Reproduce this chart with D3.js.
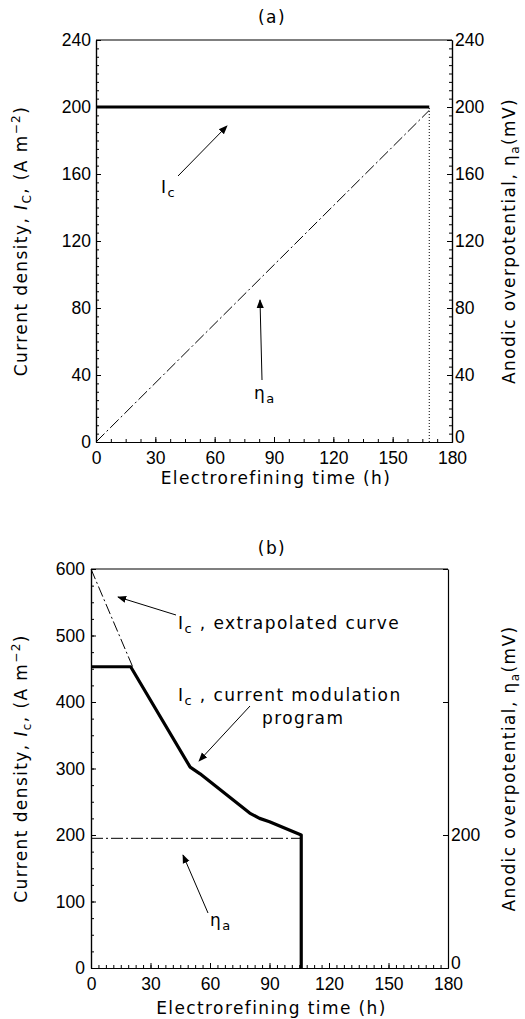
<!DOCTYPE html>
<html>
<head>
<meta charset="utf-8">
<script src="https://cdn.jsdelivr.net/npm/d3@7"></script>
<style>
  body { margin: 0; background: #fff; }
  svg { display: block; font-family: "DejaVu Sans", sans-serif; }
  .tick text { font-size: 17.5px; fill: #000; }
  .domain { stroke: #000; stroke-width: 1.2; }
  .tick line { stroke: #000; stroke-width: 1; }
  .lbl { font-size: 17px; letter-spacing: 1.4px; fill: #000; }
</style>
</head>
<body>
<svg id="chart"></svg>
<script>
const [w, h] = [525, 1019];

// panel (a)
const xTicks = [0, 30, 60, 90, 120, 150, 180];
const yTicksA = [0, 40, 80, 120, 160, 200, 240];
const icTimeA = [0, 168.5];
const icA = [200, 200];
const etaTimeA = [0, 168.5];
const etaA = [0, 198];
const endTimeA = 168.5;

// panel (b)
const yTicksB = [0, 100, 200, 300, 400, 500, 600];
const yRightTicksB = [0, 200, 400, 600];
const yRightLabelsB = [0, 200];
const icTimeB = [0, 20, 50, 55, 80, 85, 90, 106, 106];
const icB = [453, 453, 302, 292, 233, 225, 220, 200, 0];
const extTimeB = [0, 21];
const extB = [600, 453];
const etaTimeB = [0, 106];
const etaB = [195, 195];

const svg = d3.select('#chart').attr('width', w).attr('height', h);

svg.append('defs').append('marker')
    .attr('id', 'arr')
    .attr('viewBox', '0 0 10 10')
    .attr('refX', 9).attr('refY', 5)
    .attr('markerWidth', 9).attr('markerHeight', 9)
    .attr('markerUnits', 'userSpaceOnUse')
    .attr('orient', 'auto')
  .append('path')
    .attr('d', 'M0,1 L10,5 L0,9 Z')
    .attr('fill', '#000');

function drawAxes(g, x, y, yR, o) {
    const [x0, x1] = x.range();
    const [y0, y1] = y.range();

    // frame top
    g.append('line').attr('x1', x0).attr('x2', x1).attr('y1', y1).attr('y2', y1)
        .attr('stroke', '#000').attr('stroke-width', 1.2);

    // minor ticks
    g.append('g').attr('transform', `translate(0,${y0})`)
        .call(d3.axisBottom(x).tickValues(o.xMinor).tickSize(-3).tickFormat('').tickSizeOuter(0));
    g.append('g').attr('transform', `translate(${x0},0)`)
        .call(d3.axisLeft(y).tickValues(o.yMinor).tickSize(-3).tickFormat('').tickSizeOuter(0));
    if (o.yRMinor) {
        g.append('g').attr('transform', `translate(${x1},0)`)
            .call(d3.axisRight(yR).tickValues(o.yRMinor).tickSize(-3).tickFormat('').tickSizeOuter(0));
    }

    // major ticks
    g.append('g').attr('transform', `translate(0,${y0})`)
        .call(d3.axisBottom(x).tickValues(xTicks).tickSize(-5).tickPadding(5).tickSizeOuter(0))
        .selectAll('.tick text').attr('dy', '0.95em');
    g.append('g').attr('transform', `translate(${x0},0)`)
        .call(d3.axisLeft(y).tickValues(o.yTicks).tickSize(-5).tickPadding(o.lPad).tickSizeOuter(0));
    g.append('g').attr('transform', `translate(${x1},0)`)
        .call(d3.axisRight(yR).tickValues(o.yRTicks).tickSize(-5).tickPadding(3).tickSizeOuter(0)
            .tickFormat(d => o.yRLabels.includes(d) ? d : ''))
        .selectAll('.tick text').attr('dy', d => d === 0 ? '0.05em' : '0.32em');

    // x title
    g.append('text').attr('class', 'lbl')
        .attr('x', (x0 + x1) / 2 + 2).attr('y', o.xTitleY)
        .attr('text-anchor', 'middle')
        .text('Electrorefining time (h)');

    // left title
    const cy = (y0 + y1) / 2;
    const lt = g.append('text').attr('class', 'lbl')
        .attr('transform', `translate(27,${cy}) rotate(-90)`)
        .attr('text-anchor', 'middle');
    lt.append('tspan').text('Current density, ');
    lt.append('tspan').attr('font-style', 'italic').text('I');
    lt.append('tspan').attr('font-size', 12).attr('dy', 4).text(o.sub);
    lt.append('tspan').attr('dy', -4).text(', (A m');
    lt.append('tspan').attr('font-size', 12).attr('dy', -7).text('−2');
    lt.append('tspan').attr('dy', 7).text(')');

    // right title
    const rt = g.append('text').attr('class', 'lbl')
        .attr('transform', `translate(515,${cy}) rotate(-90)`)
        .attr('text-anchor', 'middle');
    rt.append('tspan').text('Anodic overpotential, η');
    rt.append('tspan').attr('font-size', 12).attr('dy', 4).text('a');
    rt.append('tspan').attr('dy', -4).text('(mV)');
}

function label(g, x, y, main, sub, rest) {
    const t = g.append('text').attr('class', 'lbl').attr('x', x).attr('y', y);
    t.append('tspan').text(main);
    t.append('tspan').attr('font-size', 13).attr('dy', 4).text(sub);
    if (rest) t.append('tspan').attr('dy', -4).text(rest);
}

function arrow(g, x1, y1, x2, y2) {
    g.append('line')
        .attr('x1', x1).attr('y1', y1).attr('x2', x2).attr('y2', y2)
        .attr('stroke', '#000').attr('stroke-width', 1)
        .attr('marker-end', 'url(#arr)');
}

const line = (xs, ys, x, y) => d3.line().x(i => x(xs[i])).y(i => y(ys[i]))(d3.range(xs.length));

// ---------- panel (a)
const gA = svg.append('g');
const xA = d3.scaleLinear().domain([0, 180]).range([96, 452]);
const yA = d3.scaleLinear().domain([0, 240]).range([442, 40]);

drawAxes(gA, xA, yA, yA, {
    xMinor: d3.range(0, 180.1, 7.5),
    yMinor: d3.range(0, 240.1, 5),
    yRMinor: d3.range(0, 240.1, 5),
    yTicks: yTicksA, yRTicks: yTicksA, yRLabels: yTicksA,
    lPad: 5, xTitleY: 484, sub: 'C'
});

gA.append('text').attr('class', 'lbl').attr('x', 272).attr('y', 23)
    .attr('text-anchor', 'middle').text('(a)');

gA.append('line')
    .attr('x1', xA(endTimeA)).attr('x2', xA(endTimeA))
    .attr('y1', yA(0)).attr('y2', yA(200))
    .attr('stroke', '#000').attr('stroke-width', 1).attr('stroke-dasharray', '1,2');

gA.append('path').attr('d', line(etaTimeA, etaA, xA, yA))
    .attr('fill', 'none').attr('stroke', '#000').attr('stroke-width', 1)
    .attr('stroke-dasharray', '12,3,2,3');

gA.append('path').attr('d', line(icTimeA, icA, xA, yA))
    .attr('fill', 'none').attr('stroke', '#000').attr('stroke-width', 3.2);

label(gA, 161, 193, 'I', 'c');
arrow(gA, 178, 176, 227, 126);
label(gA, 254, 399, 'η', 'a');
arrow(gA, 262, 380, 260, 300);

// ---------- panel (b)
const gB = svg.append('g');
const xB = d3.scaleLinear().domain([0, 180]).range([91, 448]);
const yB = d3.scaleLinear().domain([0, 600]).range([968, 569]);

drawAxes(gB, xB, yB, yB, {
    xMinor: d3.range(0, 180.1, 3.75),
    yMinor: d3.range(0, 600.1, 25),
    yRMinor: null,
    yTicks: yTicksB, yRTicks: yRightTicksB, yRLabels: yRightLabelsB,
    lPad: 6, xTitleY: 1014, sub: 'c'
});

gB.append('text').attr('class', 'lbl').attr('x', 272).attr('y', 554)
    .attr('text-anchor', 'middle').text('(b)');

gB.append('path').attr('d', line(extTimeB, extB, xB, yB))
    .attr('fill', 'none').attr('stroke', '#000').attr('stroke-width', 1)
    .attr('stroke-dasharray', '11,3,2,3');

gB.append('path').attr('d', line(etaTimeB, etaB, xB, yB))
    .attr('fill', 'none').attr('stroke', '#000').attr('stroke-width', 1)
    .attr('stroke-dasharray', '12,3,2,3');

gB.append('path').attr('d', line(icTimeB, icB, xB, yB))
    .attr('fill', 'none').attr('stroke', '#000').attr('stroke-width', 3.2)
    .attr('stroke-linejoin', 'round');

label(gB, 178, 629, 'I', 'c', ' , extrapolated curve');
arrow(gB, 176, 615, 118, 597);
label(gB, 178, 701, 'I', 'c', ' , current modulation');
gB.append('text').attr('class', 'lbl').attr('x', 262).attr('y', 724).text('program');
arrow(gB, 250, 706, 199, 761);
label(gB, 210, 926, 'η', 'a');
arrow(gB, 208, 913, 183, 855);
</script>
</body>
</html>
